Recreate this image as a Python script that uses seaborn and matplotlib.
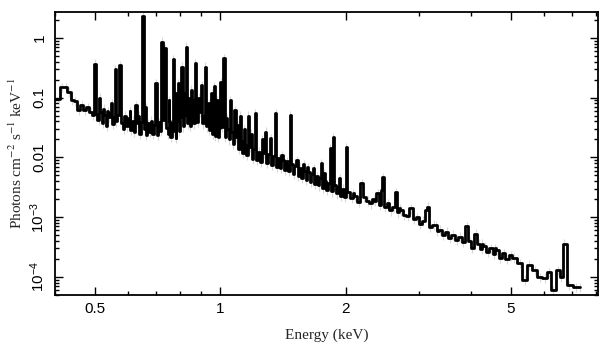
import numpy as np
import matplotlib.pyplot as plt
import seaborn as sns
from matplotlib.ticker import FixedLocator, NullFormatter, LogLocator

# continuum below 2 keV (keV, photons cm^-2 s^-1 keV^-1)
soft_energy = [0.398, 0.408, 0.416, 0.424, 0.432, 0.440, 0.448, 0.456, 0.464, 0.472,
               0.480, 0.487, 0.494,
               0.503, 0.509, 0.515, 0.521, 0.527, 0.533, 0.539, 0.545, 0.551, 0.556,
               0.562, 0.567, 0.579, 0.585, 0.591, 0.597, 0.603, 0.609, 0.615, 0.621,
               0.633, 0.640, 0.646, 0.658, 0.664, 0.670, 0.676, 0.682, 0.688, 0.694,
               0.706, 0.712, 0.718, 0.731, 0.743, 0.749, 0.755, 0.761, 0.766, 0.775,
               0.781, 0.787, 0.797, 0.803, 0.815, 0.822, 0.834, 0.840, 0.846, 0.857,
               0.863, 0.876, 0.882, 0.895, 0.908, 0.914, 0.926, 0.932, 0.941, 0.947,
               0.958, 0.963, 0.973, 0.979, 0.989, 0.996,
               1.010, 1.028, 1.042, 1.050, 1.066, 1.075, 1.093, 1.108, 1.125, 1.135,
               1.150, 1.160, 1.178, 1.196, 1.205, 1.225, 1.238, 1.252, 1.272, 1.294,
               1.306, 1.330, 1.345, 1.370, 1.383, 1.396, 1.418, 1.430, 1.445, 1.460,
               1.488, 1.500, 1.515, 1.540, 1.555, 1.570, 1.598, 1.610, 1.635, 1.650,
               1.662, 1.690, 1.705, 1.725, 1.738, 1.765, 1.790, 1.805, 1.825, 1.855,
               1.885, 1.905, 1.925, 1.950, 1.975, 1.995]
soft_flux = [0.095, 0.095, 0.150, 0.150, 0.125, 0.090, 0.088, 0.062, 0.074, 0.063,
             0.070, 0.058, 0.052,
             0.054, 0.042, 0.058, 0.038, 0.052, 0.034, 0.048, 0.056, 0.036, 0.047,
             0.040, 0.052, 0.038, 0.030, 0.050, 0.033, 0.045, 0.029, 0.041, 0.027,
             0.038, 0.025, 0.039, 0.030, 0.024, 0.037, 0.027, 0.041, 0.025, 0.035,
             0.024, 0.039, 0.028, 0.043, 0.031, 0.025, 0.041, 0.022, 0.037, 0.028,
             0.021, 0.040, 0.028, 0.047, 0.033, 0.052, 0.037, 0.057, 0.034, 0.050,
             0.037, 0.054, 0.039, 0.057, 0.037, 0.050, 0.033, 0.047, 0.029, 0.041,
             0.025, 0.037, 0.023, 0.035, 0.022, 0.031,
             0.032, 0.022, 0.030, 0.020, 0.027, 0.017, 0.022, 0.014, 0.019, 0.012,
             0.016, 0.011, 0.015, 0.0095, 0.014, 0.0090, 0.0125, 0.0085, 0.012, 0.0080,
             0.0115, 0.0075, 0.0105, 0.0070, 0.0098, 0.0066, 0.0092, 0.0062, 0.0086, 0.0060,
             0.0078, 0.0053, 0.0072, 0.0049, 0.0067, 0.0045, 0.0060, 0.0042, 0.0056, 0.0039,
             0.0052, 0.0036, 0.0048, 0.0034, 0.0045, 0.0031, 0.0041, 0.0029, 0.0038, 0.0027,
             0.0035, 0.0025, 0.0032, 0.0023, 0.0030, 0.0022]

# continuum above 2 keV
hard_energy = [2.03, 2.07, 2.11, 2.15, 2.22, 2.26, 2.30, 2.34, 2.42, 2.49, 2.53, 2.57,
               2.61, 2.68, 2.72, 2.77, 2.82, 2.93, 2.98, 3.03, 3.08, 3.20, 3.26, 3.32,
               3.38, 3.44, 3.50, 3.56, 3.63, 3.70, 3.77, 3.84, 3.98, 4.04, 4.18, 4.25,
               4.32, 4.40, 4.48, 4.56, 4.64, 4.72, 4.80, 4.90, 5.00,
               5.08, 5.25, 5.40, 5.54, 5.70, 5.86, 6.04, 6.17, 6.32, 6.50, 6.595, 6.72,
               6.91, 7.17, 7.33]
hard_flux = [0.0026, 0.0021, 0.0023, 0.0018, 0.0022, 0.0019, 0.0017, 0.0020, 0.0016, 0.0015,
             0.0017, 0.0013, 0.0015, 0.0012, 0.0013, 0.0011, 0.00105, 0.00095, 0.0010,
             0.00078, 0.00088, 0.00068, 0.00075, 0.00058, 0.00062, 0.00050, 0.00057,
             0.00045, 0.00051, 0.00042, 0.00047, 0.00039, 0.00040, 0.00031, 0.00036,
             0.00029, 0.00033, 0.00026, 0.00030, 0.00024, 0.00028, 0.00021, 0.00025,
             0.00020, 0.00023,
             0.00021, 0.00017, 0.00009, 0.00016, 0.00013, 0.00010, 0.000098, 0.00012,
             0.00006, 0.00013, 0.00010, 0.00036, 0.000073, 0.000068, 0.000068]

# emission lines (peak bins)
line_energy = [0.500, 0.512, 0.524, 0.536, 0.548, 0.558, 0.573, 0.588, 0.606, 0.627,
               0.637, 0.652, 0.661, 0.700, 0.724, 0.737, 0.752, 0.770, 0.779, 0.792,
               0.809, 0.819, 0.828, 0.837, 0.851, 0.860, 0.870, 0.888, 0.901, 0.920,
               0.937, 0.952, 0.967, 0.984, 1.004, 1.021, 1.035, 1.057, 1.087, 1.100,
               1.117, 1.142, 1.168, 1.188, 1.214, 1.262, 1.284, 1.320, 1.357, 1.408,
               1.474, 1.530, 1.585, 1.622, 1.675, 1.750, 1.780, 1.840, 1.870, 1.940,
               2.010, 2.090, 2.190, 2.350, 2.390, 2.440, 2.460, 2.640, 2.700, 2.880,
               3.120, 3.150, 3.310, 3.910, 4.110, 4.270, 4.580]
line_flux = [0.37, 0.10, 0.065, 0.060, 0.080, 0.30, 0.35, 0.050, 0.060, 0.075,
             0.050, 2.3, 0.070, 0.176, 0.86, 0.68, 0.090, 0.44, 0.12, 0.176,
             0.33, 0.12, 0.71, 0.10, 0.135, 0.090, 0.38, 0.10, 0.16, 0.33,
             0.080, 0.12, 0.157, 0.090, 0.18, 0.46, 0.045, 0.090, 0.062, 0.035,
             0.050, 0.030, 0.050, 0.025, 0.055, 0.020, 0.027, 0.021, 0.055, 0.011,
             0.051, 0.009, 0.0078, 0.0068, 0.0066, 0.0081, 0.0055, 0.0144, 0.022, 0.0045,
             0.015, 0.0025, 0.0037, 0.0019, 0.0025, 0.0029, 0.0047, 0.0026, 0.0014, 0.0014,
             0.0013, 0.0015, 0.00074, 0.0007, 0.00053, 0.00036, 0.0003]

energy = np.array(soft_energy + hard_energy + line_energy)
flux = np.array(soft_flux + hard_flux + line_flux)
order = np.argsort(energy)
energy, flux = energy[order], flux[order]

sns.set_style("ticks")
plt.rcParams["font.family"] = ["Liberation Sans", "DejaVu Sans"]
plt.rcParams["mathtext.fontset"] = "stix"

fig = plt.figure(figsize=(6.08, 3.57), dpi=100)
ax = fig.add_axes([0.0905, 0.1737, 0.893, 0.7927])
ax.set_xscale("log")
ax.set_yscale("log")

# faint error bars behind the histogram
ax.errorbar(energy, flux, yerr=0.18 * flux, fmt="none", ecolor="#d8d8d8",
            elinewidth=0.8, zorder=1)
sns.lineplot(x=energy, y=flux, ax=ax, color="black", lw=2.0, drawstyle="steps-mid",
             estimator=None, sort=False, zorder=2)

ax.set_xlim(0.4, 8.1)
ax.set_ylim(5e-5, 2.7)

ax.xaxis.set_major_locator(FixedLocator([0.5, 1, 2, 5]))
ax.set_xticklabels(["0.5", "1", "2", "5"])
ax.xaxis.set_minor_locator(FixedLocator([0.4, 0.6, 0.7, 0.8, 0.9, 3, 4, 6, 7, 8]))
ax.xaxis.set_minor_formatter(NullFormatter())

ax.yaxis.set_major_locator(FixedLocator([1e-4, 1e-3, 1e-2, 0.1, 1]))
ax.set_yticklabels([r"$\mathregular{10^{-4}}$", r"$\mathregular{10^{-3}}$", "0.01", "0.1", "1"])
ax.yaxis.set_minor_locator(LogLocator(subs=np.arange(2, 10), numticks=20))
ax.yaxis.set_minor_formatter(NullFormatter())

ax.tick_params(which="both", direction="in", top=True, right=True, width=1, colors="black")
ax.tick_params(which="major", length=6, labelsize=11)
ax.tick_params(which="minor", length=3)
ax.tick_params(axis="x", pad=5)
ax.tick_params(axis="y", pad=6, labelrotation=90)
plt.setp(ax.get_yticklabels(), va="center")
for s in ax.spines.values():
    s.set_linewidth(1.3)
    s.set_color("black")

ax.set_xlabel("Energy (keV)", family="Liberation Serif", fontsize=11)
ax.set_ylabel(r"Photons cm$^{-2}$ s$^{-1}$ keV$^{-1}$", family="Liberation Serif", fontsize=11)
ax.xaxis.set_label_coords(0.5, -0.12)
ax.yaxis.set_label_coords(-0.055, 0.5)

fig.savefig("out.png", dpi=100)
